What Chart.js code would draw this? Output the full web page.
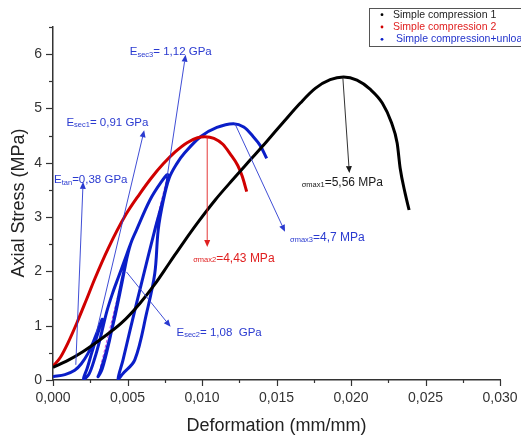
<!DOCTYPE html>
<html>
<head>
<meta charset="utf-8">
<script src="https://cdn.jsdelivr.net/npm/chart.js@4.4.1/dist/chart.umd.min.js"></script>
<style>
  html, body { margin: 0; padding: 0; background: #ffffff; }
  #c { display: block; }
</style>
</head>
<body>
<canvas id="c" width="521" height="436"></canvas>
<script>
// ---------------- data ----------------
const seriesNames = ["Simple compression 1", "Simple compression 2", " Simple compression+unloading"];

const compression1X = [0, 0.001, 0.002, 0.0032, 0.0046, 0.0058, 0.0068, 0.0078, 0.0088, 0.0098, 0.0109, 0.0121, 0.0132, 0.0143, 0.0155, 0.0166, 0.0176, 0.0186, 0.0195, 0.0204, 0.0213, 0.0221, 0.0227, 0.0231, 0.0233, 0.02363, 0.0239];
const compression1Y = [0.23, 0.36, 0.52, 0.75, 1.05, 1.4, 1.75, 2.15, 2.55, 2.93, 3.32, 3.7, 4.04, 4.38, 4.76, 5.1, 5.37, 5.53, 5.58, 5.52, 5.35, 5.1, 4.75, 4.36, 3.9, 3.44, 3.13];

const compression2X = [0, 0.0005, 0.001, 0.0016, 0.0022, 0.0028, 0.0037, 0.0049, 0.0058, 0.0066, 0.0074, 0.0082, 0.009, 0.0097, 0.0102, 0.0108, 0.0114, 0.0119, 0.0124, 0.0127, 0.013];
const compression2Y = [0.25, 0.42, 0.68, 1.05, 1.45, 1.86, 2.42, 3.05, 3.42, 3.72, 3.98, 4.2, 4.37, 4.46, 4.48, 4.45, 4.34, 4.16, 3.95, 3.75, 3.47];

const unloadingX = [0, 0.0008, 0.00146, 0.0019, 0.00235, 0.0027, 0.00302, 0.0033,
  0.003, 0.0026, 0.0023, 0.00205,
  0.0024, 0.0028, 0.0032, 0.0036, 0.004, 0.0044, 0.0048, 0.0052,
  0.005, 0.0046, 0.0041, 0.0036, 0.0032, 0.00302,
  0.0033, 0.0038, 0.0043, 0.0048, 0.0052, 0.0056, 0.0065, 0.0072, 0.0077,
  0.0075, 0.00683, 0.006, 0.0052, 0.0047, 0.00437,
  0.0047, 0.00549, 0.00628, 0.00683, 0.00706, 0.0074, 0.0078, 0.0083, 0.0088, 0.0099, 0.011, 0.0121, 0.0128, 0.01344, 0.0139, 0.01434];
const unloadingY = [0.06, 0.1, 0.18, 0.3, 0.49, 0.7, 0.92, 1.12,
  0.85, 0.5, 0.22, 0.02,
  0.1, 0.4, 0.8, 1.25, 1.6, 1.9, 2.2, 2.5,
  2.3, 1.75, 1.1, 0.55, 0.18, 0.06,
  0.2, 0.74, 1.4, 2.05, 2.5, 2.76, 3.31, 3.62, 3.78,
  3.45, 2.76, 1.85, 0.95, 0.37, 0.02,
  0.12, 0.37, 1.23, 1.96, 2.76, 3.3, 3.72, 3.98, 4.17, 4.48, 4.65, 4.72, 4.66, 4.48, 4.32, 4.08];

// secant (dashed) lines inside the unloading loops
const secantX = [[0.00205, 0.0033], [0.00302, 0.0052], [0.00437, 0.0077]];
const secantY = [[0.02, 1.12], [0.06, 2.5], [0.02, 3.78]];

const xTickValues = [0, 0.005, 0.01, 0.015, 0.02, 0.025, 0.03];
const yTickValues = [0, 1, 2, 3, 4, 5, 6];

// annotation texts: [prefix, subscript, rest]
const annotationTexts = [
  ["E", "sec3", "= 1,12 GPa"],
  ["E", "sec1", "= 0,91 GPa"],
  ["E", "tan", "=0,38 GPa"],
  ["E", "sec2", "= 1,08  GPa"],
  ["", "\u03c3max1", "=5,56 MPa"],
  ["", "\u03c3max2", "=4,43 MPa"],
  ["", "\u03c3max3", "=4,7 MPa"]
];
const arrowFromX = [0.00766, 0.0029, 0.00153, 0.00493, 0.01945, 0.01035, 0.01221];
const arrowFromY = [3.74, 0.86, 0.28, 1.99, 5.58, 4.48, 4.72];
const arrowToX   = [0.0089, 0.00612, 0.00202, 0.00789, 0.01989, 0.01035, 0.01557];
const arrowToY   = [5.99, 4.6, 3.65, 0.98, 3.81, 2.45, 2.73];
const labelX     = [0.00515, 0.0009, 0.00007, 0.00829, 0.01669, 0.00941, 0.01591];
const labelY     = [6.06, 4.76, 3.70, 0.89, 3.65, 2.26, 2.63];

// ---------------- styles ----------------
const BLACK = "#000000", RED = "#d00000", BLUE = "#0a1ec8";
const annColors = ["#2a3ad0", "#2a3ad0", "#2a3ad0", "#2a3ad0", "#1a1a1a", "#e02020", "#2a3ad0"];
const legendTextColors = ["#222222", "#e02020", "#2233cc"];
const FONT = "'Liberation Sans', Arial, sans-serif";

function pts(xs, ys) { return xs.map((x, i) => ({ x: x, y: ys[i] })); }

const datasets = [
  { label: seriesNames[0], data: pts(compression1X, compression1Y), borderColor: BLACK, backgroundColor: BLACK, cubicInterpolationMode: "monotone" },
  { label: seriesNames[1], data: pts(compression2X, compression2Y), borderColor: RED, backgroundColor: RED, cubicInterpolationMode: "monotone" },
  { label: seriesNames[2], data: pts(unloadingX, unloadingY), borderColor: BLUE, backgroundColor: BLUE, tension: 0.35 }
].map(d => Object.assign(d, { showLine: true, pointRadius: 0, borderWidth: 3, fill: false }));

secantX.forEach((sx, i) => {
  datasets.push({ label: "_secant" + i, data: pts(sx, secantY[i]), showLine: true, pointRadius: 0,
    borderColor: "#d040e0", borderWidth: 1, borderDash: [3, 2], tension: 0, fill: false });
});

const decor = {
  id: "decor",
  afterDraw(chart) {
    const ctx = chart.ctx, xs = chart.scales.x, ys = chart.scales.y;
    const ca = chart.chartArea;
    ctx.save();
    ctx.strokeStyle = "#333"; ctx.lineWidth = 1.2;
    for (let k = 0; k <= 13; k++) {
      const py = Math.round(ys.getPixelForValue(k * 0.5)) + 0.5;
      const len = (k % 2 === 0) ? 7 : 4;
      ctx.beginPath(); ctx.moveTo(ca.left, py); ctx.lineTo(ca.left - len, py); ctx.stroke();
    }
    for (let k = 0; k <= 12; k++) {
      const px = Math.round(xs.getPixelForValue(k * 0.0025)) + 0.5;
      const len = (k % 2 === 0) ? 6 : 3;
      ctx.beginPath(); ctx.moveTo(px, ca.bottom); ctx.lineTo(px, ca.bottom + len); ctx.stroke();
    }
    ctx.fillStyle = "#222";
    ctx.font = "18px " + FONT;
    ctx.textAlign = "center"; ctx.textBaseline = "middle";
    ctx.fillText("Deformation (mm/mm)", (xs.getPixelForValue(0) + xs.getPixelForValue(0.03)) / 2, 426);
    ctx.save();
    ctx.translate(19, 203); ctx.rotate(-Math.PI / 2);
    ctx.fillText("Axial Stress (MPa)", 0, 0);
    ctx.restore();

    for (let i = 0; i < annotationTexts.length; i++) {
      const x0 = xs.getPixelForValue(arrowFromX[i]), y0 = ys.getPixelForValue(arrowFromY[i]);
      const x1 = xs.getPixelForValue(arrowToX[i]), y1 = ys.getPixelForValue(arrowToY[i]);
      const col = annColors[i];
      ctx.strokeStyle = col; ctx.fillStyle = col; ctx.lineWidth = 0.9;
      const ang = Math.atan2(y1 - y0, x1 - x0), hl = 7, hw = 3;
      const bx = x1 - hl * Math.cos(ang), by = y1 - hl * Math.sin(ang);
      ctx.beginPath(); ctx.moveTo(x0, y0); ctx.lineTo(bx, by); ctx.stroke();
      ctx.beginPath();
      ctx.moveTo(x1, y1);
      ctx.lineTo(bx + hw * Math.sin(ang), by - hw * Math.cos(ang));
      ctx.lineTo(bx - hw * Math.sin(ang), by + hw * Math.cos(ang));
      ctx.closePath(); ctx.fill();

      const t = annotationTexts[i];
      let tx = xs.getPixelForValue(labelX[i]);
      const ty = ys.getPixelForValue(labelY[i]);
      const big = (t[0] === "E") ? 11.5 : 12;
      ctx.textAlign = "left"; ctx.textBaseline = "alphabetic";
      const base = ty + big * 0.36;
      if (t[0]) {
        ctx.font = big + "px " + FONT;
        ctx.fillText(t[0], tx, base);
        tx += ctx.measureText(t[0]).width;
      }
      ctx.font = "7.5px " + FONT;
      ctx.fillText(t[1], tx, base + (t[0] ? 1.5 : 0.5));
      tx += ctx.measureText(t[1]).width;
      ctx.font = big + "px " + FONT;
      ctx.fillText(t[2], tx, base);
    }

    ctx.strokeStyle = "#555"; ctx.lineWidth = 1;
    ctx.strokeRect(369.5, 8.5, 170, 38);
    ctx.font = "10.5px " + FONT;
    ctx.textBaseline = "middle"; ctx.textAlign = "left";
    const rows = [14.7, 27, 39.3];
    for (let i = 0; i < 3; i++) {
      const ds = chart.data.datasets[i];
      ctx.fillStyle = ds.borderColor;
      ctx.beginPath(); ctx.arc(382, rows[i], 1.4, 0, Math.PI * 2); ctx.fill();
      ctx.fillStyle = legendTextColors[i];
      ctx.fillText(ds.label, 393, rows[i]);
    }
    ctx.restore();
  }
};

new Chart(document.getElementById("c"), {
  type: "scatter",
  data: { datasets: datasets },
  options: {
    responsive: false,
    animation: false,
    devicePixelRatio: 1,
    layout: { padding: { top: 27, right: 21, left: 0, bottom: 0 } },
    plugins: { legend: { display: false }, tooltip: { enabled: false } },
    scales: {
      x: {
        type: "linear", min: 0, max: 0.03,
        afterBuildTicks: (s) => { s.ticks = xTickValues.map(v => ({ value: v })); },
        afterFit: (s) => { s.height = 56; },
        ticks: { autoSkip: false, maxRotation: 0, padding: 2, color: "#333", font: { size: 14, family: FONT },
          callback: (v) => Number(v).toFixed(3).replace(".", ",") },
        grid: { display: false },
        border: { display: true, color: "#333", width: 1.5 }
      },
      y: {
        type: "linear", min: 0, max: 6.5,
        afterBuildTicks: (s) => { s.ticks = yTickValues.map(v => ({ value: v })); },
        afterFit: (s) => { s.width = 53; },
        ticks: { autoSkip: false, padding: 3, color: "#333", font: { size: 14, family: FONT },
          callback: (v) => String(Math.round(v)) },
        grid: { display: false },
        border: { display: true, color: "#333", width: 1.5 }
      }
    }
  },
  plugins: [decor]
});
</script>
</body>
</html>
